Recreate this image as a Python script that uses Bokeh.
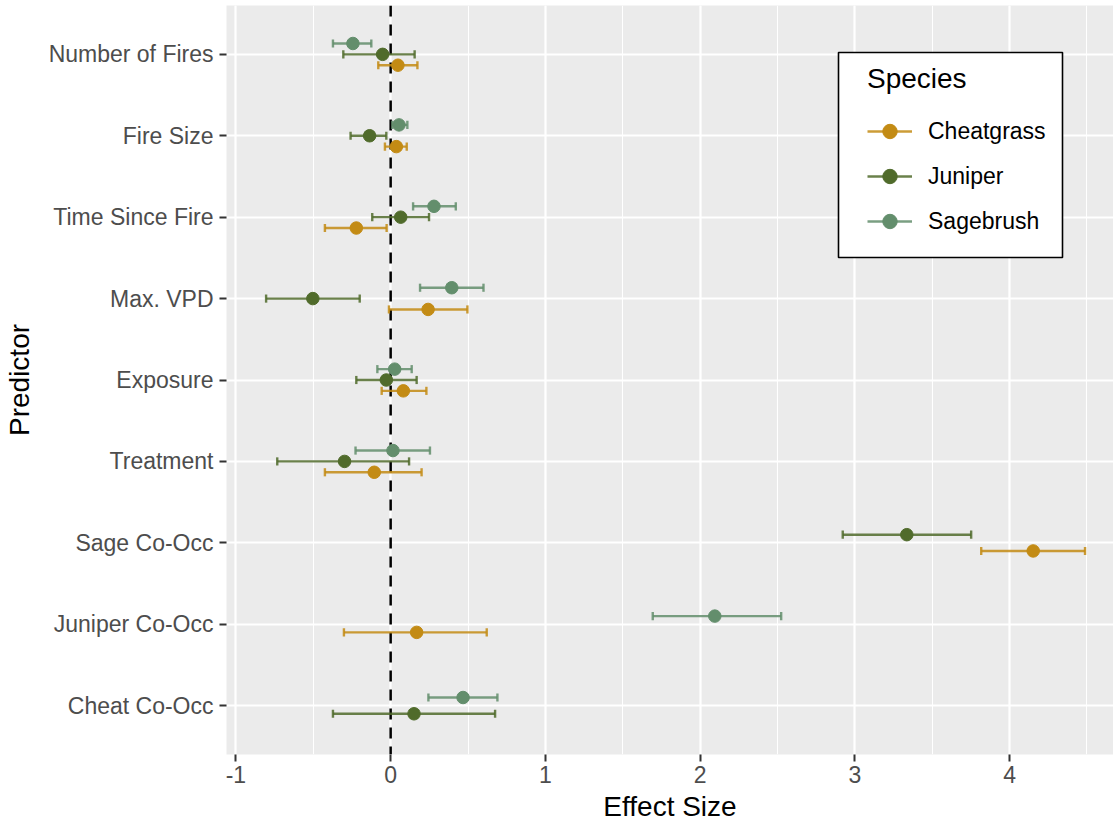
import numpy as np
from bokeh.plotting import figure
from bokeh.models import (Range1d, FixedTicker, SingleIntervalTicker, Span,
                          Legend, LegendItem, ColumnDataSource, BoxAnnotation)
from bokeh.embed import file_html
from bokeh.resources import INLINE

# ---------------- data ----------------
predictors = ["Number of Fires", "Fire Size", "Time Since Fire", "Max. VPD",
              "Exposure", "Treatment", "Sage Co-Occ", "Juniper Co-Occ", "Cheat Co-Occ"]
species = ["Cheatgrass", "Juniper", "Sagebrush"]

nan = float("nan")
cheat_est = [0.047, 0.037, -0.222, 0.242, 0.082, -0.106, 4.153, 0.168, nan]
cheat_lo = [-0.080, -0.037, -0.425, -0.011, -0.058, -0.425, 3.817, -0.302, nan]
cheat_hi = [0.173, 0.104, -0.026, 0.496, 0.231, 0.200, 4.488, 0.621, nan]

juniper_est = [-0.052, -0.136, 0.065, -0.503, -0.028, -0.298, 3.336, nan, 0.151]
juniper_lo = [-0.306, -0.259, -0.119, -0.805, -0.222, -0.733, 2.922, nan, -0.373]
juniper_hi = [0.155, -0.028, 0.248, -0.200, 0.168, 0.119, 3.752, nan, 0.675]

sage_est = [-0.244, 0.054, 0.280, 0.395, 0.026, 0.015, nan, 2.095, 0.468]
sage_lo = [-0.373, 0.011, 0.145, 0.190, -0.086, -0.227, nan, 1.694, 0.244]
sage_hi = [-0.125, 0.108, 0.421, 0.600, 0.136, 0.254, nan, 2.524, 0.690]

x_ticks = [-1, 0, 1, 2, 3, 4]
x_tick_labels = ["-1", "0", "1", "2", "3", "4"]

# ---------------- styling ----------------
colors = {"Cheatgrass": "#C38B14", "Juniper": "#506B2B", "Sagebrush": "#638E6C"}
FONT = "Liberation Sans"
DODGE = 0.4
CAP = 0.05

est = {"Cheatgrass": cheat_est, "Juniper": juniper_est, "Sagebrush": sage_est}
lo = {"Cheatgrass": cheat_lo, "Juniper": juniper_lo, "Sagebrush": sage_lo}
hi = {"Cheatgrass": cheat_hi, "Juniper": juniper_hi, "Sagebrush": sage_hi}

n_pred = len(predictors)
centers = {p: n_pred - i for i, p in enumerate(predictors)}

# compute dodged positions (ggplot position_dodge style)
rows = {s: dict(x=[], lo=[], hi=[], y=[]) for s in species}
for i, pname in enumerate(predictors):
    present = [s for s in species if not np.isnan(est[s][i])]
    n = len(present)
    for k, s in enumerate(present):
        off = (k - (n - 1) / 2) * DODGE / n
        rows[s]["x"].append(est[s][i])
        rows[s]["lo"].append(lo[s][i])
        rows[s]["hi"].append(hi[s][i])
        rows[s]["y"].append(centers[pname] + off)

p = figure(width=1113, height=824, output_backend="svg", toolbar_location=None,
           x_range=Range1d(-1.061, 4.672), y_range=Range1d(0.4, n_pred + 0.6),
           min_border_top=5, min_border_right=0, min_border_left=0, min_border_bottom=0)

p.background_fill_color = "#EBEBEB"
p.border_fill_color = "white"
p.outline_line_color = None

# grids
p.xaxis.ticker = SingleIntervalTicker(interval=1, num_minor_ticks=2)
p.yaxis.ticker = FixedTicker(ticks=list(range(1, n_pred + 1)))
p.xgrid.grid_line_color = "white"
p.xgrid.grid_line_width = 2.2
p.xgrid.minor_grid_line_color = "white"
p.xgrid.minor_grid_line_width = 1.1
p.ygrid.grid_line_color = "white"
p.ygrid.grid_line_width = 2.2

# zero line
zero = Span(location=0, dimension="height", line_color="black",
            line_width=2.5, line_dash="11 8", level="underlay")
p.add_layout(zero)

items = []
for s in species:
    src = ColumnDataSource(dict(x=rows[s]["x"], lo=rows[s]["lo"], hi=rows[s]["hi"],
                                y=rows[s]["y"],
                                yb=[v - CAP for v in rows[s]["y"]],
                                yt=[v + CAP for v in rows[s]["y"]]))
    seg = p.segment(x0="lo", x1="hi", y0="y", y1="y", source=src,
                    line_color=colors[s], line_width=2.4, line_alpha=0.85)
    p.segment(x0="lo", x1="lo", y0="yb", y1="yt", source=src,
              line_color=colors[s], line_width=2.4, line_alpha=0.85)
    p.segment(x0="hi", x1="hi", y0="yb", y1="yt", source=src,
              line_color=colors[s], line_width=2.4, line_alpha=0.85)
    pts = p.scatter(x="x", y="y", source=src, size=12.5, marker="circle",
                    fill_color=colors[s], line_color=colors[s])
    items.append(LegendItem(label=s, renderers=[seg, pts]))

# legend frame (ggplot-style box)
legend_box = BoxAnnotation(left=612, right=836, bottom=497, top=702,
                           left_units="screen", right_units="screen",
                           bottom_units="screen", top_units="screen",
                           fill_color="white", fill_alpha=1.0,
                           line_color="black", line_alpha=1.0, line_width=1.6,
                           level="annotation", propagate_hover=False)
p.add_layout(legend_box)

legend = Legend(items=items, location=(641, 515), title="Species",
                title_text_font=FONT, title_text_font_size="28px",
                title_text_font_style="normal",
                title_text_color="black", title_standoff=18,
                label_text_font=FONT, label_text_font_size="23px",
                label_text_color="black", label_standoff=16,
                glyph_width=45, glyph_height=36, label_height=36, spacing=9,
                padding=0, margin=0,
                border_line_color=None, background_fill_alpha=0.0)
p.add_layout(legend)

# axes
p.xaxis.axis_label = "Effect Size"
p.yaxis.axis_label = "Predictor"
p.xaxis.major_label_overrides = {t: lab for t, lab in zip(x_ticks, x_tick_labels)}
p.yaxis.major_label_overrides = {centers[pn]: pn for pn in predictors}
for ax in (p.xaxis[0], p.yaxis[0]):
    ax.axis_line_color = None
    ax.major_tick_line_color = "#333333"
    ax.major_tick_line_width = 2
    ax.major_tick_in = 0
    ax.major_tick_out = 7
    ax.minor_tick_line_color = None
    ax.major_label_text_font = FONT
    ax.major_label_text_font_size = "23px"
    ax.major_label_text_color = "#4D4D4D"
    ax.axis_label_text_font = FONT
    ax.axis_label_text_font_size = "28px"
    ax.axis_label_text_font_style = "normal"
    ax.axis_label_text_color = "black"
p.xaxis.major_label_standoff = 4
p.xaxis.axis_label_standoff = 5
p.yaxis.major_label_standoff = 6
p.yaxis.axis_label_standoff = 11

open("out.html", "w").write(file_html(p, INLINE))
